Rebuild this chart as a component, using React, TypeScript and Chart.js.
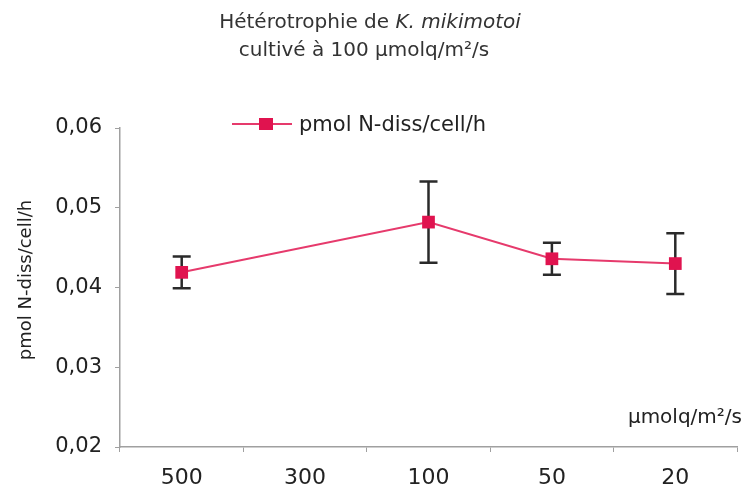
import React, { useEffect, useRef } from "react";
import { Chart, registerables } from "chart.js";

Chart.register(...registerables);

// Irradiance classes (µmolq/m²/s) and measured uptake
const categories = ["500", "300", "100", "50", "20"];
const nDiss = [0.0419, null, 0.0482, 0.0436, 0.043];
const nDissErr = [0.002, null, 0.0051, 0.002, 0.0038];

const yMin = 0.02;
const yMax = 0.06;
const yStep = 0.01;

const FONT = "'DejaVu Sans', sans-serif";
const TEXT = "#222222";
const LINE_COLOR = "#E63A6C";
const MARKER_COLOR = "#E0134F";
const AXIS_COLOR = "#A0A0A0";

const seriesLabel = "pmol N-diss/cell/h";
const xUnit = "µmolq/m²/s";

// Vertical error bars with caps, drawn behind the markers
const errorBars = {
  id: "errorBars",
  beforeDatasetsDraw(chart: any) {
    const { ctx, scales } = chart;
    const meta = chart.getDatasetMeta(0);
    ctx.save();
    ctx.strokeStyle = "#2a2a2a";
    ctx.lineWidth = 2.5;
    nDiss.forEach((v, i) => {
      const e = nDissErr[i];
      if (v == null || e == null) return;
      const x = meta.data[i].x;
      const yt = scales.y.getPixelForValue(v + e);
      const yb = scales.y.getPixelForValue(v - e);
      const cap = 9;
      ctx.beginPath();
      ctx.moveTo(x, yt);
      ctx.lineTo(x, yb);
      ctx.moveTo(x - cap, yt);
      ctx.lineTo(x + cap, yt);
      ctx.moveTo(x - cap, yb);
      ctx.lineTo(x + cap, yb);
      ctx.stroke();
    });
    ctx.restore();
  },
};

// Title, legend and axis captions
const captions = {
  id: "captions",
  afterDraw(chart: any) {
    const { ctx } = chart;
    ctx.save();
    ctx.fillStyle = "#333333";
    ctx.textBaseline = "alphabetic";

    // Title line 1 with italic species name
    const partA = "Hétérotrophie de ";
    const partB = "K. mikimotoi";
    ctx.font = `20px ${FONT}`;
    const wA = ctx.measureText(partA).width;
    ctx.font = `italic 20px ${FONT}`;
    const wB = ctx.measureText(partB).width;
    let x0 = 370 - (wA + wB) / 2;
    ctx.textAlign = "left";
    ctx.font = `20px ${FONT}`;
    ctx.fillText(partA, x0, 28);
    ctx.font = `italic 20px ${FONT}`;
    ctx.fillText(partB, x0 + wA, 28);

    // Title line 2
    ctx.font = `20px ${FONT}`;
    ctx.textAlign = "center";
    ctx.fillText("cultivé à 100 µmolq/m²/s", 364, 56);

    // Legend
    ctx.strokeStyle = LINE_COLOR;
    ctx.lineWidth = 2;
    ctx.beginPath();
    ctx.moveTo(232, 124);
    ctx.lineTo(292, 124);
    ctx.stroke();
    ctx.fillStyle = MARKER_COLOR;
    ctx.fillRect(259, 118, 14, 12);
    ctx.fillStyle = TEXT;
    ctx.font = `21px ${FONT}`;
    ctx.textAlign = "left";
    ctx.fillText(seriesLabel, 299, 131);

    // Y axis caption
    ctx.save();
    ctx.translate(26, 280);
    ctx.rotate(-Math.PI / 2);
    ctx.font = `18px ${FONT}`;
    ctx.textAlign = "center";
    ctx.textBaseline = "middle";
    ctx.fillText(seriesLabel, 0, 0);
    ctx.restore();

    // X unit caption
    ctx.font = `20px ${FONT}`;
    ctx.textAlign = "right";
    ctx.fillText(xUnit, 742, 423);

    ctx.restore();
  },
};

export default function App() {
  const ref = useRef<HTMLCanvasElement>(null);

  useEffect(() => {
    if (!ref.current) return;
    const chart = new Chart(ref.current, {
      type: "line",
      data: {
        labels: categories,
        datasets: [
          {
            label: seriesLabel,
            data: nDiss,
            borderColor: LINE_COLOR,
            borderWidth: 2,
            pointStyle: "rect",
            pointRadius: 9,
            pointBackgroundColor: MARKER_COLOR,
            pointBorderColor: MARKER_COLOR,
            pointBorderWidth: 0,
            spanGaps: true,
            tension: 0,
          },
        ],
      },
      options: {
        responsive: false,
        animation: false,
        layout: { padding: { top: 128, right: 6, left: 0, bottom: 0 } },
        plugins: {
          legend: { display: false },
          title: { display: false },
          tooltip: { enabled: false },
        },
        scales: {
          x: {
            type: "category",
            offset: true,
            grid: {
              offset: true,
              drawOnChartArea: false,
              tickLength: 5,
              color: AXIS_COLOR,
            },
            border: { color: AXIS_COLOR, width: 1.5 },
            ticks: {
              font: { family: FONT, size: 22 },
              color: TEXT,
              padding: 13,
              maxRotation: 0,
            },
            afterFit: (s: any) => {
              s.height = 41;
            },
          },
          y: {
            min: yMin,
            max: yMax,
            grid: {
              drawOnChartArea: false,
              tickLength: 5,
              color: AXIS_COLOR,
            },
            border: { color: AXIS_COLOR, width: 1.5 },
            ticks: {
              stepSize: yStep,
              font: { family: FONT, size: 21 },
              color: TEXT,
              padding: 13,
              callback: (v: any) => Number(v).toFixed(2).replace(".", ","),
            },
            afterFit: (s: any) => {
              s.width = 120;
            },
          },
        },
      },
      plugins: [errorBars, captions],
    });
    return () => chart.destroy();
  }, []);

  return (
    <div style={{ position: "absolute", left: 0, top: 0, width: 746, height: 488, background: "#fff" }}>
      <canvas ref={ref} width={746} height={488} style={{ display: "block" }} />
    </div>
  );
}
